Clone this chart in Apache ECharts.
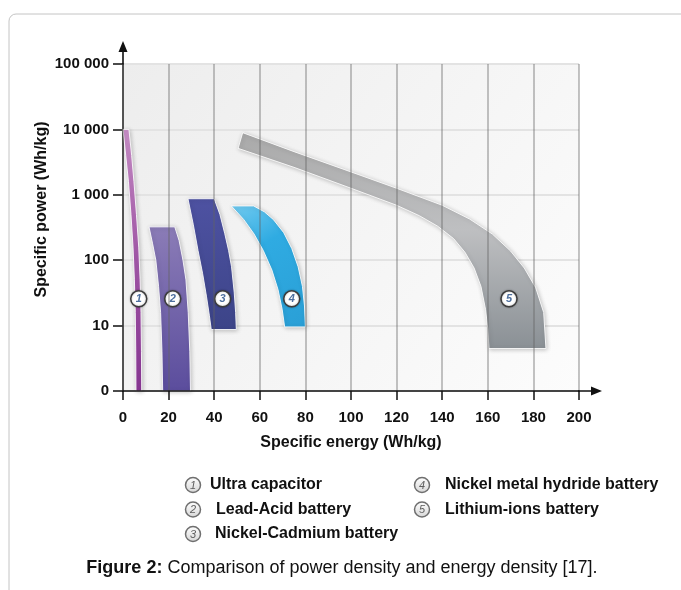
<!DOCTYPE html>
<html>
<head>
<meta charset="utf-8">
<script src="https://cdn.jsdelivr.net/npm/echarts@6/dist/echarts.min.js"></script>
<style>
  html, body { margin: 0; padding: 0; background: #ffffff; }
  #chart { width: 681px; height: 590px; }
</style>
</head>
<body>
<div id="chart"></div>
<script>
const FONT = '"Liberation Sans", Arial, Helvetica, sans-serif';

// Battery technologies, in drawing order
const batteryNames = [
  'Ultra capacitor',
  'Lead-Acid battery',
  'Nickel-Cadmium battery',
  'Nickel metal hydride battery',
  'Lithium-ions battery'
];

// Power axis: one step per decade, bottom step labelled 0
const powerTickLabels = ['0', '10', '100', '1 000', '10 000', '100 000'];
const energyTicks = [0, 20, 40, 60, 80, 100, 120, 140, 160, 180, 200];

// Region outlines as [specific energy (Wh/kg), power decade step]
const ultraCapacitorOutline = [
  [0.0, 4.0], [1.2, 3.6], [2.4, 3.2], [3.5, 2.7], [4.4, 2.2], [5.0, 1.7], [5.4, 1.2], [5.6, 0.6], [5.7, 0.0],
  [8.2, 0.0], [8.1, 0.6], [7.9, 1.2], [7.5, 1.7], [6.9, 2.2], [5.9, 2.7], [4.8, 3.2], [3.8, 3.6], [2.6, 4.0]
];
const leadAcidOutline = [
  [11.4, 2.51], [13.0, 2.25], [14.4, 2.0], [15.6, 1.6], [16.5, 1.2], [17.1, 0.6], [17.4, 0.0],
  [29.6, 0.0], [29.3, 0.6], [28.6, 1.2], [27.6, 1.7], [26.3, 2.0], [24.6, 2.3], [22.7, 2.51]
];
const nickelCadmiumOutline = [
  [28.5, 2.94], [30.8, 2.55], [32.9, 2.15], [34.9, 1.8], [36.6, 1.45], [37.9, 1.15], [38.7, 0.94],
  [49.7, 0.94], [49.4, 1.2], [48.8, 1.5], [47.6, 1.9], [46.3, 2.15], [44.6, 2.41], [42.5, 2.7], [40.0, 2.94]
];
const nickelMetalHydrideOutline = [
  [47.5, 2.83], [53.0, 2.62], [57.5, 2.4], [61.5, 2.15], [65.3, 1.85], [68.0, 1.55], [69.8, 1.25], [70.9, 0.98],
  [80.0, 0.98], [79.6, 1.3], [78.7, 1.6], [76.8, 1.9], [74.0, 2.18], [70.5, 2.42], [66.0, 2.62], [62.0, 2.74], [57.3, 2.83]
];
const lithiumIonOutline = [
  [52.5, 3.95], [75, 3.66], [100, 3.35], [120, 3.10], [140, 2.84], [152, 2.63], [162, 2.40], [170, 2.14],
  [176, 1.88], [181, 1.58], [184.5, 1.20], [185.5, 0.65],
  [160.5, 0.65], [160, 0.95], [159, 1.25], [157, 1.60], [154, 1.88], [150, 2.12], [145, 2.33],
  [138, 2.52], [130, 2.68], [120, 2.84], [100, 3.10], [75, 3.42], [50.5, 3.71]
];

// Where each region's number badge sits
const badgePoints = [
  [6.9, 1.41], [21.8, 1.41], [43.7, 1.41], [74.0, 1.41], [169.3, 1.41]
];

const outlines = [
  ultraCapacitorOutline, leadAcidOutline, nickelCadmiumOutline,
  nickelMetalHydrideOutline, lithiumIonOutline
];

// Fill gradients per region: [x1, y1, x2, y2, stops]
const regionFills = [
  [0, 0, 0, 1, [[0, '#c98fc8'], [0.5, '#a457aa'], [1, '#8a3795']]],
  [0, 0, 0, 1, [[0, '#8b7cb7'], [1, '#5b4d9d']]],
  [0, 0, 0, 1, [[0, '#4e52a2'], [1, '#3c4488']]],
  [0, 0, 1, 1, [[0, '#72cbf0'], [0.35, '#2fabe2'], [1, '#2a9fd6']]],
  [0, 0, 0, 1, [[0, '#a9a9a9'], [0.45, '#bebfc1'], [1, '#8a9095']]]
];

function regionItem(params, api) {
  const i = params.dataIndex;
  const pts = outlines[i].map(function (p) { return api.coord(p); });
  const c = api.coord([api.value(0), api.value(1)]);
  const f = regionFills[i];
  return {
    type: 'group',
    children: [
      {
        type: 'polygon',
        shape: { points: pts },
        style: {
          fill: new echarts.graphic.LinearGradient(f[0], f[1], f[2], f[3],
            f[4].map(function (s) { return { offset: s[0], color: s[1] }; })),
          stroke: 'rgba(255,255,255,0.85)',
          lineWidth: 1,
          shadowBlur: 4,
          shadowOffsetX: 1,
          shadowOffsetY: 1,
          shadowColor: 'rgba(0,0,0,0.22)'
        }
      },
      {
        type: 'circle',
        shape: { cx: c[0], cy: c[1], r: 8 },
        style: {
          fill: '#ffffff',
          stroke: '#3c3c3c',
          lineWidth: 1.5,
          shadowBlur: 2,
          shadowColor: 'rgba(0,0,0,0.3)'
        }
      },
      {
        type: 'text',
        style: {
          x: c[0], y: c[1] + 0.5,
          text: String(i + 1),
          align: 'center',
          verticalAlign: 'middle',
          font: 'italic bold 11px ' + FONT,
          fill: '#4d6f9e'
        }
      }
    ]
  };
}

// Key below the chart: two columns of numbered entries
const keyColumns = [[0, 1, 2], [3, 4]];
const keyOrigins = [[193, 485, 210], [422, 485, 445]];
const keyRowStep = 24.5;

function keyElements() {
  const els = [];
  keyColumns.forEach(function (col, ci) {
    const o = keyOrigins[ci];
    col.forEach(function (idx, ri) {
      const y = o[1] + ri * keyRowStep;
      els.push({
        type: 'circle',
        shape: { cx: o[0], cy: y, r: 7.5 },
        style: {
          fill: new echarts.graphic.LinearGradient(0, 0, 0, 1, [
            { offset: 0, color: '#ffffff' }, { offset: 1, color: '#d6d6d6' }
          ]),
          stroke: '#6f6f6f',
          lineWidth: 1.5
        }
      });
      els.push({
        type: 'text',
        style: {
          x: o[0], y: y + 0.5,
          text: String(idx + 1),
          align: 'center', verticalAlign: 'middle',
          font: 'italic 11px ' + FONT,
          fill: '#5e5e5e'
        }
      });
      els.push({
        type: 'text',
        style: {
          x: o[2] + (idx === 1 ? 6 : idx === 2 ? 5 : 0), y: y,
          text: batteryNames[idx],
          align: 'left', verticalAlign: 'middle',
          font: 'bold 16px ' + FONT,
          fill: '#111111'
        }
      });
    });
  });
  return els;
}

// Arrow head with a short stem, used at the end of both axes
const axisArrow = 'path://M45 0 L90 110 L53 110 L53 240 L37 240 L37 110 L0 110 Z';

const chart = echarts.init(document.getElementById('chart'), null, { renderer: 'canvas' });

chart.setOption({
  animation: false,
  backgroundColor: '#ffffff',
  grid: {
    left: 123, right: 102, top: 64, bottom: 199,
    show: true,
    borderWidth: 0,
    backgroundColor: new echarts.graphic.LinearGradient(0, 0, 1, 1, [
      { offset: 0, color: '#ededed' }, { offset: 1, color: '#fcfcfc' }
    ])
  },
  xAxis: {
    type: 'value',
    min: energyTicks[0],
    max: energyTicks[energyTicks.length - 1],
    interval: 20,
    z: 3,
    name: 'Specific energy (Wh/kg)',
    nameLocation: 'middle',
    nameGap: 44,
    nameMoveOverlap: false,
    nameTextStyle: { fontFamily: FONT, fontWeight: 'bold', fontSize: 16, color: '#111' },
    axisLine: {
      lineStyle: { color: '#111', width: 1.5 },
      symbol: ['none', axisArrow],
      symbolSize: [9, 24],
      symbolOffset: [0, 11]
    },
    axisTick: { length: 9, lineStyle: { color: '#111', width: 1.5 } },
    axisLabel: {
      margin: 19,
      fontFamily: FONT, fontWeight: 'bold', fontSize: 15, color: '#111'
    },
    splitLine: { show: true, lineStyle: { color: 'rgba(100,100,100,0.5)', width: 1.5 } }
  },
  yAxis: {
    type: 'value',
    min: 0,
    max: powerTickLabels.length - 1,
    interval: 1,
    name: 'Specific power (Wh/kg)',
    nameLocation: 'middle',
    nameGap: 73,
    nameMoveOverlap: false,
    nameTextStyle: {
      fontFamily: FONT, fontWeight: 'bold', fontSize: 16, color: '#111',
      padding: [0, 0, 0, 36]
    },
    axisLine: {
      lineStyle: { color: '#111', width: 1.5 },
      symbol: ['none', axisArrow],
      symbolSize: [9, 24],
      symbolOffset: [0, 11]
    },
    axisTick: { length: 10, lineStyle: { color: '#111', width: 1.5 } },
    axisLabel: {
      margin: 14,
      fontFamily: FONT, fontWeight: 'bold', fontSize: 15, color: '#111',
      formatter: function (v) { return powerTickLabels[Math.round(v)] || ''; }
    },
    splitLine: { show: true, lineStyle: { color: '#e3e3e3', width: 2 } }
  },
  series: [{
    type: 'custom',
    name: 'Battery technologies',
    coordinateSystem: 'cartesian2d',
    clip: false,
    renderItem: regionItem,
    encode: { x: 0, y: 1 },
    data: badgePoints.map(function (p, i) { return { name: batteryNames[i], value: p }; })
  }],
  graphic: [
    {
      type: 'rect',
      silent: true,
      z: -10,
      shape: { x: 9, y: 14, width: 700, height: 620, r: 7 },
      style: { fill: 'none', stroke: '#c4c4c4', lineWidth: 1 }
    },
    { type: 'group', silent: true, children: keyElements() },
    {
      type: 'text',
      silent: true,
      style: {
        x: 342, y: 568,
        text: '{b|Figure 2:} Comparison of power density and energy density [17].',
        align: 'center', verticalAlign: 'middle',
        font: '18px ' + FONT,
        fill: '#111',
        rich: { b: { font: 'bold 18px ' + FONT, fill: '#111' } }
      }
    }
  ]
});
</script>
</body>
</html>
